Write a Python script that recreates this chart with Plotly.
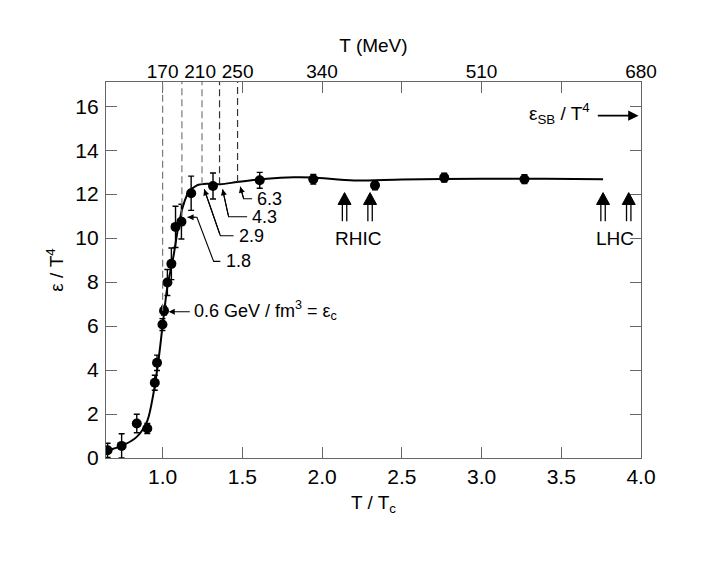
import plotly.graph_objects as go

FONT = "Liberation Sans, Arial, Helvetica, sans-serif"
Tc = 170.0

# lattice data points: T/Tc, eps/T^4, error
t_ratio = [0.655, 0.743, 0.838, 0.904, 0.951, 0.965, 0.999, 1.009, 1.030, 1.055,
           1.081, 1.118, 1.179, 1.316, 1.609, 1.945, 2.332, 2.766, 3.269]
eps_t4 = [0.35, 0.55, 1.57, 1.34, 3.42, 4.33, 6.07, 6.70, 7.98, 8.83,
          10.51, 10.75, 12.04, 12.37, 12.63, 12.68, 12.40, 12.75, 12.68]
eps_err = [0.32, 0.55, 0.42, 0.23, 0.34, 0.35, 0.27, 0.2, 0.59, 0.72,
           0.94, 0.79, 0.78, 0.59, 0.36, 0.22, 0.2, 0.2, 0.2]

# smooth curve
curve_x = [0.655, 0.743, 0.838, 0.904, 0.942, 0.974, 0.999, 1.030, 1.068, 1.099,
           1.131, 1.162, 1.215, 1.278, 1.362, 1.467, 1.613, 1.739, 1.823, 1.945,
           2.2, 2.5, 3.0, 3.4, 3.762]
curve_y = [0.35, 0.55, 0.96, 1.69, 2.91, 4.44, 5.96, 7.79, 9.17, 10.54,
           11.53, 12.07, 12.40, 12.47, 12.45, 12.55, 12.68, 12.75, 12.77, 12.76,
           12.62, 12.67, 12.70, 12.70, 12.68]

# top axis (T in MeV)
top_mev = [170, 210, 250, 340, 510, 680]

# dashed lines at energy-density values
dash_x = [1.0, 1.121, 1.247, 1.357, 1.470]
dash_ybot = [6.7, 11.0, 12.45, 12.45, 12.55]
dash_col = ["#7a7a7a", "#7a7a7a", "#7a7a7a", "#333333", "#333333"]

# leader annotations: label, head, bend points (tail ... end), text position
lead_labels = ["1.8", "2.9", "4.3", "6.3"]
lead_head = [(1.156, 10.95), (1.261, 12.22), (1.376, 12.22), (1.487, 12.34)]
lead_path = [[(1.215, 10.95), (1.32, 8.94), (1.362, 8.94)],
             [(1.362, 10.11), (1.445, 10.11)],
             [(1.414, 10.97), (1.53, 10.97)],
             [(1.508, 11.79), (1.561, 11.79)]]
lead_text = [(1.382, 8.94), (1.467, 10.11), (1.55, 10.97), (1.582, 11.79)]

# accelerator arrows
acc_x = [2.141, 2.301, 3.762, 3.923]
acc_tip, acc_headbase, acc_base = 12.07, 11.53, 10.77
acc_labels = ["RHIC", "LHC"]
acc_label_x = [2.225, 3.835]

fig = go.Figure()

fig.add_trace(go.Scatter(x=curve_x, y=curve_y, mode="lines",
                         line=dict(color="black", width=2, shape="spline", smoothing=0.8),
                         hoverinfo="skip"))
fig.add_trace(go.Scatter(x=t_ratio, y=eps_t4, mode="markers",
                         marker=dict(color="black", size=10),
                         error_y=dict(type="data", array=eps_err, color="black",
                                      thickness=1.4, width=3)))
# invisible trace for top axis
fig.add_trace(go.Scatter(x=[m / Tc for m in top_mev], y=[None] * len(top_mev),
                         xaxis="x2", mode="markers", hoverinfo="skip"))

shapes = []
for x, yb, c in zip(dash_x, dash_ybot, dash_col):
    shapes.append(dict(type="line", xref="x", yref="y", x0=x, x1=x, y0=yb, y1=17.1,
                       line=dict(color=c, width=1.2, dash="7px,4px")))
for pts, head in zip(lead_path, lead_head):
    all_pts = [head] + pts
    path = "M" + " L".join(f"{px},{py}" for px, py in all_pts)
    shapes.append(dict(type="path", xref="x", yref="y", path=path,
                       line=dict(color="black", width=1.1)))
for x in acc_x:
    for off in (-2.2, 2.2):
        shapes.append(dict(type="line", xref="x", yref="y", xsizemode="pixel", xanchor=x,
                           x0=off, x1=off, y0=acc_base, y1=acc_headbase,
                           line=dict(color="black", width=1.3)))
    shapes.append(dict(type="path", xref="x", yref="y", xsizemode="pixel", xanchor=x,
                       path=f"M-6.5,{acc_headbase} L6.5,{acc_headbase} L0,{acc_tip} Z",
                       fillcolor="black", line=dict(color="black", width=1)))

annotations = []
for lab, head, pts, tp in zip(lead_labels, lead_head, lead_path, lead_text):
    annotations.append(dict(x=head[0], y=head[1], ax=pts[0][0], ay=pts[0][1],
                            xref="x", yref="y", axref="x", ayref="y", text="",
                            showarrow=True, arrowhead=2, arrowsize=1.1, arrowwidth=1.1,
                            arrowcolor="black", standoff=0))
    annotations.append(dict(x=tp[0], y=tp[1], xref="x", yref="y", text=lab,
                            showarrow=False, xanchor="left", yanchor="middle",
                            font=dict(family=FONT, size=18, color="black")))
# 0.6 GeV/fm^3 arrow
annotations.append(dict(x=1.038, y=6.65, ax=1.18, ay=6.65, xref="x", yref="y",
                        axref="x", ayref="y", text="", showarrow=True, arrowhead=2,
                        arrowsize=1.1, arrowwidth=1.1, arrowcolor="black", standoff=0))
annotations.append(dict(x=1.183, y=6.7, xref="x", yref="y",
                        text="0.6 GeV / fm<sup>3</sup> = ε<sub>c</sub>",
                        showarrow=False, xanchor="left", yanchor="middle",
                        font=dict(family=FONT, size=18, color="black")))
for lab, lx in zip(acc_labels, acc_label_x):
    annotations.append(dict(x=lx, y=10.0, xref="x", yref="y", text=lab, showarrow=False,
                            xanchor="center", yanchor="middle",
                            font=dict(family=FONT, size=19, color="black")))
# Stefan-Boltzmann limit
annotations.append(dict(x=3.985, y=15.57, ax=3.72, ay=15.57, xref="x", yref="y",
                        axref="x", ayref="y", text="", showarrow=True, arrowhead=2,
                        arrowsize=1.3, arrowwidth=1.6, arrowcolor="black", standoff=0))
annotations.append(dict(x=3.695, y=15.68, xref="x", yref="y",
                        text="ε<sub>SB</sub> / T<sup>4</sup>", showarrow=False,
                        xanchor="right", yanchor="middle",
                        font=dict(family=FONT, size=19, color="black")))

axis_col = "#666666"
TICKF = dict(family=FONT, size=21, color="black")
TOPF = dict(family=FONT, size=19, color="black")
TITLEF = dict(family=FONT, size=19, color="black")
fig.update_layout(
    width=708, height=565,
    margin=dict(l=98, r=75, t=74, b=115),
    paper_bgcolor="white", plot_bgcolor="white",
    showlegend=False,
    font=dict(family=FONT, size=18, color="black"),
    shapes=shapes, annotations=annotations,
    xaxis=dict(range=[0.645, 4.0], tickvals=[1.0, 1.5, 2.0, 2.5, 3.0, 3.5, 4.0],
               ticktext=["1.0", "1.5", "2.0", "2.5", "3.0", "3.5", "4.0"],
               ticks="inside", ticklen=11, tickcolor=axis_col, tickwidth=1.2,
               showline=True, linecolor=axis_col, linewidth=1.4, mirror="ticks",
               showgrid=False, zeroline=False, automargin=False,
               tickfont=TICKF,
               title=dict(text="T / T<sub>c</sub>", font=TITLEF, standoff=8)),
    xaxis2=dict(range=[0.645, 4.0], overlaying="x", side="top", anchor="y",
                tickvals=[m / Tc for m in top_mev], ticktext=[str(m) for m in top_mev],
                ticks="", showline=False, showgrid=False, zeroline=False,
                automargin=False, ticklabelstandoff=-1,
                tickfont=TOPF,
                title=dict(text="T (MeV)", font=TITLEF, standoff=3)),
    yaxis=dict(range=[0, 17.1], tickvals=list(range(0, 17, 2)),
               ticks="inside", ticklen=11, tickcolor=axis_col, tickwidth=1.2,
               showline=True, linecolor=axis_col, linewidth=1.4, mirror="ticks",
               showgrid=False, zeroline=False, automargin=False,
               ticklabelstandoff=2,
               tickfont=TICKF,
               title=dict(text="ε / T<sup>4</sup>", font=TITLEF, standoff=6)),
)

fig.write_html("out.html")
